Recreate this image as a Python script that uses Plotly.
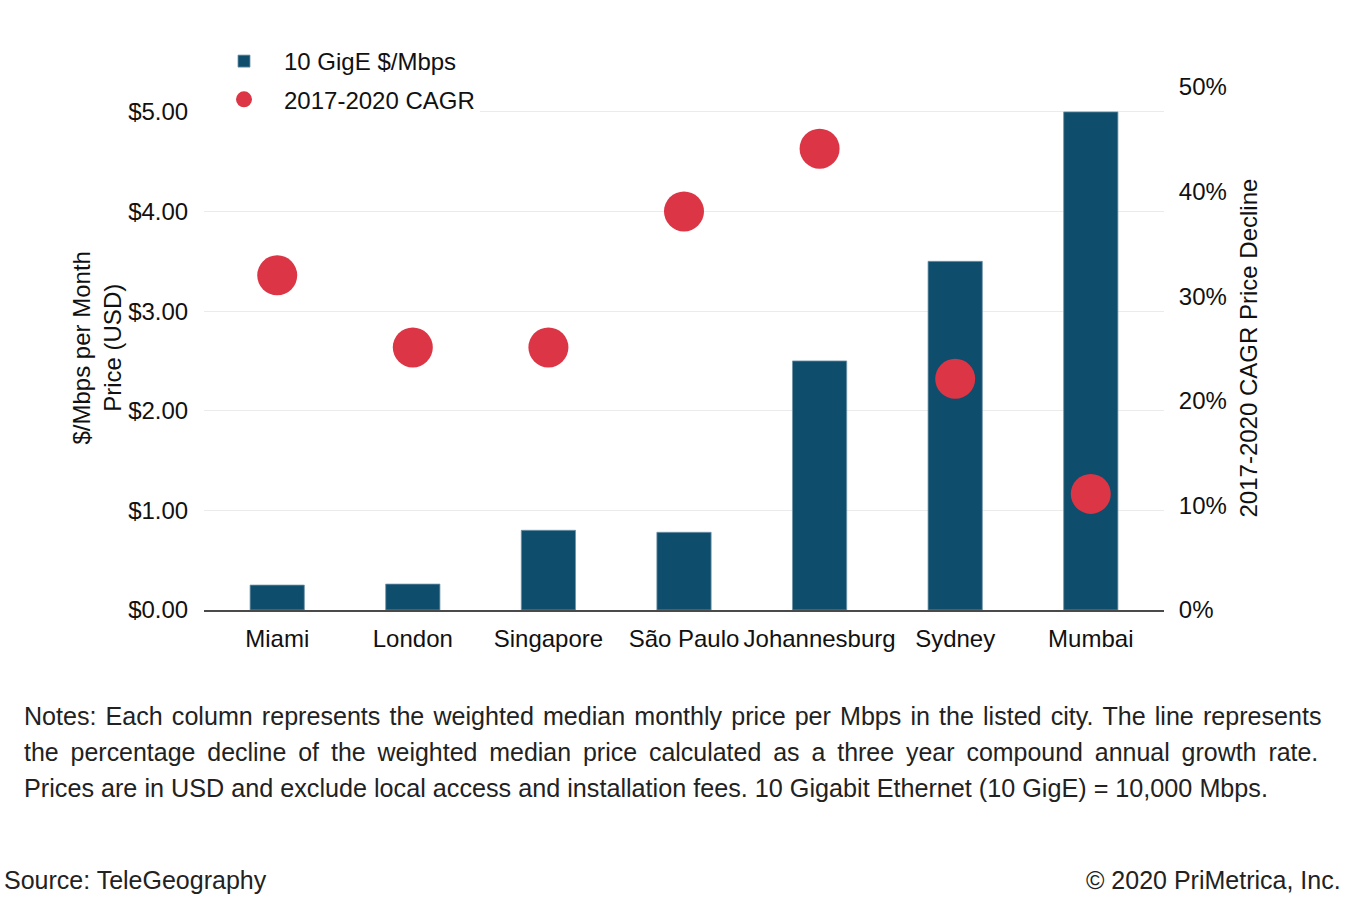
import plotly.graph_objects as go

cities = ["Miami", "London", "Singapore", "São Paulo", "Johannesburg", "Sydney", "Mumbai"]
price_usd = [0.25, 0.26, 0.80, 0.78, 2.50, 3.50, 5.00]
cagr_decline = [32.0, 25.1, 25.1, 38.1, 44.1, 22.1, 11.1]

left_tickvals = [0, 1, 2, 3, 4, 5]
left_ticktext = ["$0.00", "$1.00", "$2.00", "$3.00", "$4.00", "$5.00"]
right_tickvals = [0, 10, 20, 30, 40, 50]
right_ticktext = ["0%", "10%", "20%", "30%", "40%", "50%"]

notes = [
    "Notes: Each column represents the weighted median monthly price per Mbps in the listed city. The line represents",
    "the percentage decline of the weighted median price calculated as a three year compound annual growth rate.",
    "Prices are in USD and exclude local access and installation fees. 10 Gigabit Ethernet (10 GigE) = 10,000 Mbps.",
]
source_text = "Source: TeleGeography"
copyright_text = "© 2020 PriMetrica, Inc."

FONT = "Liberation Sans, Arial, Helvetica, sans-serif"
BAR = "#0e4d6b"
DOT = "#dc3545"
TXT = "#111111"

fig = go.Figure()
fig.add_trace(go.Bar(
    x=cities, y=price_usd, name="10 GigE $/Mbps", legendgroup="a",
    marker=dict(color=BAR, line=dict(color="#6f93a8", width=0.8)),
    width=0.4, yaxis="y",
))
fig.add_trace(go.Scatter(
    x=cities, y=cagr_decline, name="2017-2020 CAGR", mode="markers", legendgroup="b",
    marker=dict(color=DOT, size=40, line=dict(width=0)),
    yaxis="y2",
))

W, H = 1360, 914
L, R, T, B = 204, 196, 87, 304
PH = H - T - B

fig.update_layout(
    width=W, height=H,
    margin=dict(l=L, r=R, t=T, b=B, pad=0),
    paper_bgcolor="white", plot_bgcolor="white",
    font=dict(family=FONT, size=24, color=TXT),
    showlegend=True,
    legend=dict(
        x=0, xanchor="left", y=1 + (T - 39) / PH, yanchor="top",
        bgcolor="white", borderwidth=0, itemwidth=70,
        font=dict(size=24, color=TXT),
        traceorder="grouped", tracegroupgap=4,
    ),
    xaxis=dict(
        type="category", range=[-0.54, 6.54],
        showline=True, linecolor="#4a4a4a", linewidth=1.6,
        showgrid=False, zeroline=False,
        ticks="outside", ticklen=6, tickcolor="rgba(0,0,0,0)",
        tickfont=dict(size=24, color=TXT),
    ),
    yaxis=dict(
        range=[0, 5.25], tickvals=left_tickvals, ticktext=left_ticktext,
        showgrid=True, gridcolor="#ebebeb", gridwidth=1.3,
        zeroline=False, showline=False,
        ticks="outside", ticklen=10, tickcolor="rgba(0,0,0,0)",
        tickfont=dict(size=24, color=TXT),
    ),
    yaxis2=dict(
        range=[0, 50], tickvals=right_tickvals, ticktext=right_ticktext,
        overlaying="y", side="right",
        showgrid=False, zeroline=False, showline=False,
        ticks="outside", ticklen=9, tickcolor="rgba(0,0,0,0)",
        tickfont=dict(size=24, color=TXT),
    ),
    bargap=0.6,
)

# white patch hiding part of the $1/$2 gridlines (as in the original)
fig.add_shape(type="rect", xref="paper", yref="paper",
              x0=(580 - L) / (W - L - R), x1=(781 - L) / (W - L - R),
              y0=0.6 / 5.25, y1=2.4 / 5.25,
              fillcolor="white", line=dict(width=0), layer="between")

# axis titles
fig.add_annotation(xref="paper", yref="paper", x=0, y=0.5, xanchor="center", yanchor="middle",
                   xshift=96 - L, textangle=-90, showarrow=False,
                   text="$/Mbps per Month<br>Price (USD)", font=dict(size=24, color=TXT))
fig.add_annotation(xref="paper", yref="paper", x=1, y=0.5, xanchor="center", yanchor="middle",
                   xshift=1248 - (W - R), textangle=-90, showarrow=False,
                   text="2017-2020 CAGR Price Decline", font=dict(size=24, color=TXT))

# notes (first two lines justified with extra thin/hair spaces)
pads = ["\u200a", "\u2009", ""]
sizes = [25.1, 24.95, 25.2]
for i, line in enumerate(notes):
    txt = line.replace(" ", " " + pads[i]) if pads[i] else line
    fig.add_annotation(xref="paper", yref="paper", x=0, y=0, xanchor="left", yanchor="middle",
                       xshift=22 - L, yshift=-(716 + 36 * i - (H - B)),
                       text=txt, showarrow=False, font=dict(size=sizes[i], color="#222222"))

fig.add_annotation(xref="paper", yref="paper", x=0, y=0, xanchor="left", yanchor="middle",
                   xshift=2 - L, yshift=-(880 - (H - B)), text=source_text, showarrow=False,
                   font=dict(size=25, color="#222222"))
fig.add_annotation(xref="paper", yref="paper", x=1, y=0, xanchor="right", yanchor="middle",
                   xshift=(W - 17) - (W - R), yshift=-(880 - (H - B)), text=copyright_text, showarrow=False,
                   font=dict(size=25, color="#222222"))

fig.write_html("out.html", config={"displayModeBar": False},
               post_script="document.body.style.margin='0';document.body.style.padding='0';")
